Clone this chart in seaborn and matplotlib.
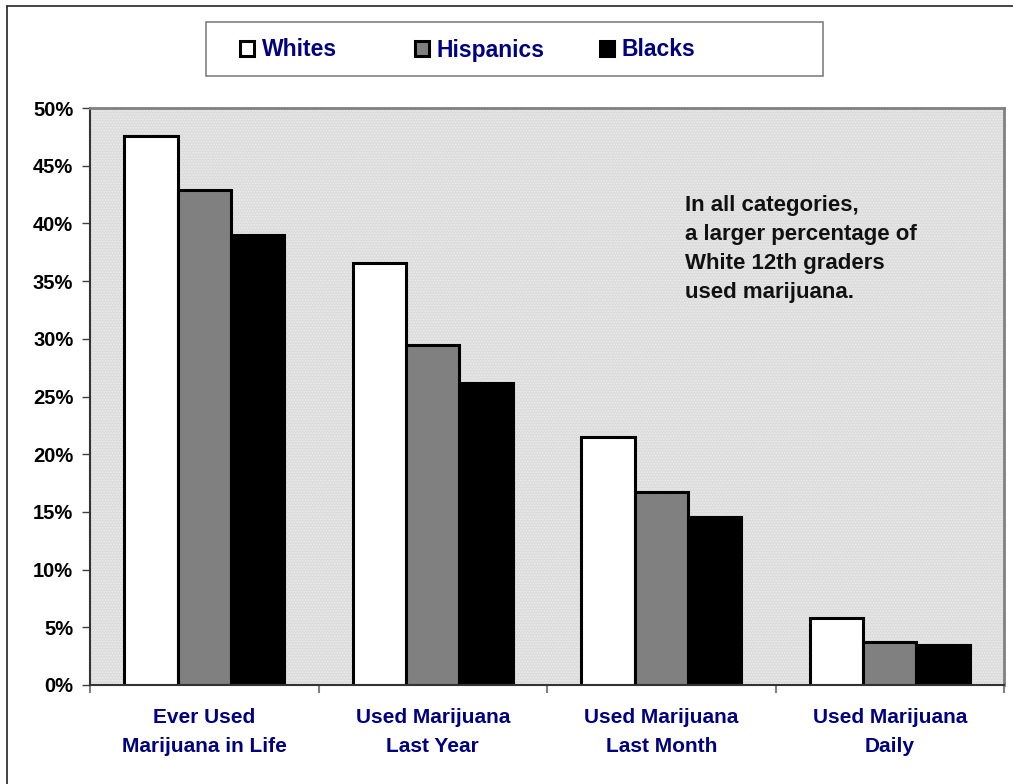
import matplotlib
matplotlib.use("Agg")
import matplotlib.pyplot as plt
from matplotlib.patches import Patch, Rectangle
from matplotlib.lines import Line2D
from matplotlib.ticker import FixedLocator, FuncFormatter
import seaborn as sns
import pandas as pd

# Share of 12th graders who used marijuana, by group
categories = ["Ever Used\nMarijuana in Life", "Used Marijuana\nLast Year",
              "Used Marijuana\nLast Month", "Used Marijuana\nDaily"]
groups = ["Whites", "Hispanics", "Blacks"]
whites = [47.6, 36.6, 21.5, 5.8]
hispanics = [42.9, 29.5, 16.7, 3.7]
blacks = [39.0, 26.2, 14.6, 3.5]
y_ticks = [0, 5, 10, 15, 20, 25, 30, 35, 40, 45, 50]
note = "In all categories,\na larger percentage of\nWhite 12th graders\nused marijuana."

colors = {"Whites": "#ffffff", "Hispanics": "#808080", "Blacks": "#000000"}
navy = "#000080"

df = pd.DataFrame({
    "category": categories * 3,
    "group": [g for g in groups for _ in categories],
    "value": whites + hispanics + blacks,
})

sns.set_theme(style="white")
plt.rcParams["font.family"] = ["Liberation Sans", "DejaVu Sans"]
plt.rcParams["hatch.linewidth"] = 0.8

W, H = 1013, 784
fig = plt.figure(figsize=(W / 100, H / 100), dpi=100)
ax = fig.add_axes([90 / W, 1 - 685 / H, (1004 - 90) / W, (685 - 108) / H])

sns.barplot(data=df, x="category", y="value", hue="group", order=categories,
            hue_order=groups, palette=colors, width=0.7, gap=0,
            edgecolor="black", linewidth=2.2, saturation=1, legend=False, ax=ax)

# plot area: light grey dotted backdrop
ax.set_facecolor("#dcdcdc")
ax.add_patch(Rectangle((0, 0), 1, 1, transform=ax.transAxes, facecolor="none",
                       edgecolor="#ececec", hatch="......", linewidth=0, zorder=0))

ax.set_xlim(-0.5, len(categories) - 0.5)
ax.set_ylim(0, 50)
ax.set_xlabel("")
ax.set_ylabel("")

ax.yaxis.set_major_locator(FixedLocator(y_ticks))
ax.yaxis.set_major_formatter(FuncFormatter(lambda v, p: f"{v:.0f}%"))
ax.tick_params(axis="y", which="major", left=True, length=6, width=1,
               color="#404040", pad=6, labelsize=14.5)
for lab in ax.get_yticklabels():
    lab.set_fontweight("bold")
    lab.set_color("black")

# category labels centred, tick marks between categories
ax.set_xticks(range(len(categories)))
ax.set_xticklabels(categories, fontsize=15, fontweight="bold", color=navy,
                   linespacing=1.65)
ax.set_xticks([i - 0.5 for i in range(len(categories) + 1)], minor=True)
ax.tick_params(axis="x", which="major", bottom=False, length=0, pad=16.5)
ax.tick_params(axis="x", which="minor", bottom=True, length=6, width=1.5,
               color="#808080")

for side in ["top", "right"]:
    ax.spines[side].set_color("#808080")
    ax.spines[side].set_linewidth(2)
for side in ["left", "bottom"]:
    ax.spines[side].set_color("#333333")
    ax.spines[side].set_linewidth(1.5)
    ax.spines[side].set_visible(True)

ax.text((685 - 90) / (1004 - 90), (685 - 195) / (685 - 108), note,
        transform=ax.transAxes, ha="left", va="top",
        fontsize=16, fontweight="bold", color="#111111", linespacing=1.5)

# legend box at top
fig.add_artist(Rectangle((206 / W, 1 - 76 / H), 617 / W, 54 / H,
                         transform=fig.transFigure, facecolor="white",
                         edgecolor="#808080", linewidth=1.2))
legend_x = [240, 415, 600]
for g, lx in zip(groups, legend_x):
    handle = Patch(facecolor=colors[g], edgecolor="black", linewidth=2.2)
    leg = fig.legend([handle], [g], loc="center left",
                     bbox_to_anchor=(lx / W, 1 - 50 / H), frameon=False,
                     handlelength=0.6, handleheight=0.6, handletextpad=0.35,
                     borderpad=0, borderaxespad=0,
                     prop={"weight": "bold", "size": 16.5})
    for t in leg.get_texts():
        t.set_color(navy)

# outer frame
fig.add_artist(Line2D([7 / W, 7 / W], [0, 1 - 6 / H], transform=fig.transFigure,
                      color="#222222", linewidth=1.2))
fig.add_artist(Line2D([7 / W, 1], [1 - 6 / H, 1 - 6 / H], transform=fig.transFigure,
                      color="#222222", linewidth=1.2))

fig.savefig("out.png", dpi=100, facecolor="white")
